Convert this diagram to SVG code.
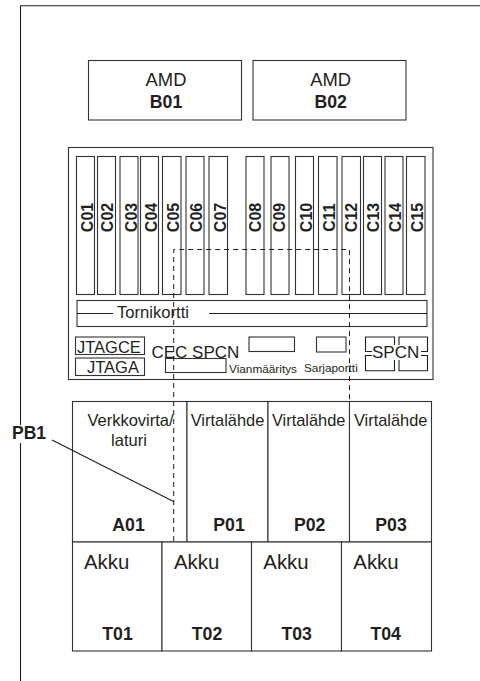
<svg xmlns="http://www.w3.org/2000/svg" width="480" height="681" viewBox="0 0 480 681">
<style>
text{font-family:"Liberation Sans",Arial,sans-serif;fill:#231f20}
.b{font-weight:bold}
.m{text-anchor:middle}
.s{fill:#fff;stroke:#333;stroke-width:1.100}
.l{fill:none;stroke:#231f20;stroke-width:1.100}
.d{fill:none;stroke:#231f20;stroke-width:1;stroke-dasharray:5 4}
.c{font-size:16px;font-weight:bold;text-anchor:middle}
.v{font-size:16.400px;text-anchor:middle}
.k{font-size:20.400px}
.i{font-size:17.700px;font-weight:bold;text-anchor:middle}
</style>
<rect width="480" height="681" fill="#fff"/>
<g id="frame"><path class="l" d="M480 5.700H20.500V425M20.500 443V681"/></g>
<g id="B01"><rect class="s" x="88.500" y="60.500" width="153" height="59.500"/><text class="m" x="166" y="86" font-size="18.400">AMD</text><text class="i" x="166" y="107.700">B01</text></g>
<g id="B02"><rect class="s" x="253" y="60.500" width="153" height="59.500"/><text class="m" x="330.700" y="86" font-size="18.400">AMD</text><text class="i" x="330.700" y="107.700">B02</text></g>
<g id="panel"><rect class="s" x="68.500" y="147.500" width="364.500" height="232"/></g>
<g id="slots">
<g id="C01"><rect class="s" x="76.500" y="156.500" width="18" height="138"/><text class="c" transform="translate(93 217.500) rotate(-90)">C01</text></g>
<g id="C02"><rect class="s" x="97.500" y="156.500" width="18" height="138"/><text class="c" transform="translate(113 217.500) rotate(-90)">C02</text></g>
<g id="C03"><rect class="s" x="120" y="156.500" width="18" height="138"/><text class="c" transform="translate(136.500 217.500) rotate(-90)">C03</text></g>
<g id="C04"><rect class="s" x="140.500" y="156.500" width="18" height="138"/><text class="c" transform="translate(156.500 217.500) rotate(-90)">C04</text></g>
<g id="C05"><rect class="s" x="162.500" y="156.500" width="18.500" height="138"/><text class="c" transform="translate(179 217.500) rotate(-90)">C05</text></g>
<g id="C06"><rect class="s" x="186" y="156.500" width="18" height="138"/><text class="c" transform="translate(202 217.500) rotate(-90)">C06</text></g>
<g id="C07"><rect class="s" x="209" y="156.500" width="18.500" height="138"/><text class="c" transform="translate(225.500 217.500) rotate(-90)">C07</text></g>
<g id="C08"><rect class="s" x="246" y="156.500" width="18" height="138"/><text class="c" transform="translate(261 217.500) rotate(-90)">C08</text></g>
<g id="C09"><rect class="s" x="271" y="156.500" width="18" height="138"/><text class="c" transform="translate(285 217.500) rotate(-90)">C09</text></g>
<g id="C10"><rect class="s" x="295.500" y="156.500" width="18" height="138"/><text class="c" transform="translate(312 217.500) rotate(-90)">C10</text></g>
<g id="C11"><rect class="s" x="318.500" y="156.500" width="18.500" height="138"/><text class="c" transform="translate(335 217.500) rotate(-90)">C11</text></g>
<g id="C12"><rect class="s" x="342" y="156.500" width="18.500" height="138"/><text class="c" transform="translate(356.500 217.500) rotate(-90)">C12</text></g>
<g id="C13"><rect class="s" x="363.500" y="156.500" width="18" height="138"/><text class="c" transform="translate(379 217.500) rotate(-90)">C13</text></g>
<g id="C14"><rect class="s" x="385" y="156.500" width="18" height="138"/><text class="c" transform="translate(401 217.500) rotate(-90)">C14</text></g>
<g id="C15"><rect class="s" x="406.500" y="156.500" width="18.500" height="138"/><text class="c" transform="translate(422.500 217.500) rotate(-90)">C15</text></g>
</g>
<g id="tornikortti"><rect class="s" x="77" y="300.500" width="350" height="26"/><path class="l" d="M77 313.500H113M209 313.500H427"/><text x="117" y="318" font-size="16.600">Tornikortti</text></g>
<g id="JTAGCE"><rect class="s" x="75.500" y="337" width="69" height="17.500"/><text x="77" y="353" font-size="16.500">JTAGCE</text></g>
<g id="JTAGA"><rect class="s" x="75.500" y="358" width="69" height="17.500"/><text x="87" y="372.500" font-size="16.500">JTAGA</text></g>
<g id="cec"><rect class="s" x="165.500" y="358.500" width="60.500" height="14"/><text x="151.500" y="357.500" font-size="17">CEC SPCN</text></g>
<g id="vianmaaritys"><rect class="s" x="249" y="337" width="45.500" height="14.500"/><text x="229" y="372.500" font-size="11.800">Vianmääritys</text></g>
<g id="sarjaportti"><rect class="s" x="316.500" y="337" width="29.500" height="15"/><text x="304" y="372" font-size="11.800">Sarjaportti</text></g>
<g id="SPCN"><path class="l" d="M372 351.500H365.500V337H394.500V345M372 355.500H365.500V370.700H394.500V360M421 351.500H427.500V337H399V345M421 355.500H427.500V370.700H399V360"/><text x="372" y="358" font-size="17">SPCN</text></g>
<g id="A01"><rect class="s" x="72.500" y="401.500" width="114.500" height="140.500"/><text class="m" x="130.500" y="425.700" font-size="16.500">Verkkovirta/</text><text class="m" x="129" y="445.700" font-size="16.500">laturi</text><text class="i" x="128.500" y="530.500">A01</text></g>
<g id="P01"><rect class="s" x="187" y="401.500" width="81" height="140.500"/><text class="v" x="227.500" y="425.700">Virtalähde</text><text class="i" x="229" y="530.500">P01</text></g>
<g id="P02"><rect class="s" x="268" y="401.500" width="81.500" height="140.500"/><text class="v" x="308.700" y="425.700">Virtalähde</text><text class="i" x="309.700" y="530.500">P02</text></g>
<g id="P03"><rect class="s" x="349.500" y="401.500" width="82" height="140.500"/><text class="v" x="390.700" y="425.700">Virtalähde</text><text class="i" x="391" y="530.500">P03</text></g>
<g id="T01"><rect class="s" x="72.500" y="542" width="89.500" height="109"/><text class="k" x="84" y="569">Akku</text><text class="i" x="117.500" y="640">T01</text></g>
<g id="T02"><rect class="s" x="162" y="542" width="89.500" height="109"/><text class="k" x="174" y="569">Akku</text><text class="i" x="207" y="640">T02</text></g>
<g id="T03"><rect class="s" x="251.500" y="542" width="90" height="109"/><text class="k" x="263.300" y="569">Akku</text><text class="i" x="296.700" y="640">T03</text></g>
<g id="T04"><rect class="s" x="341.500" y="542" width="90" height="109"/><text class="k" x="353.300" y="569">Akku</text><text class="i" x="385.700" y="640">T04</text></g>
<g id="connectors">
<path class="d" d="M173.700 541V249.500H349.500V401"/>
<path class="l" d="M52 440L174 501.700"/>
</g>
<g id="PB1"><text class="b" x="12" y="439" font-size="17.500">PB1</text></g>
</svg>
